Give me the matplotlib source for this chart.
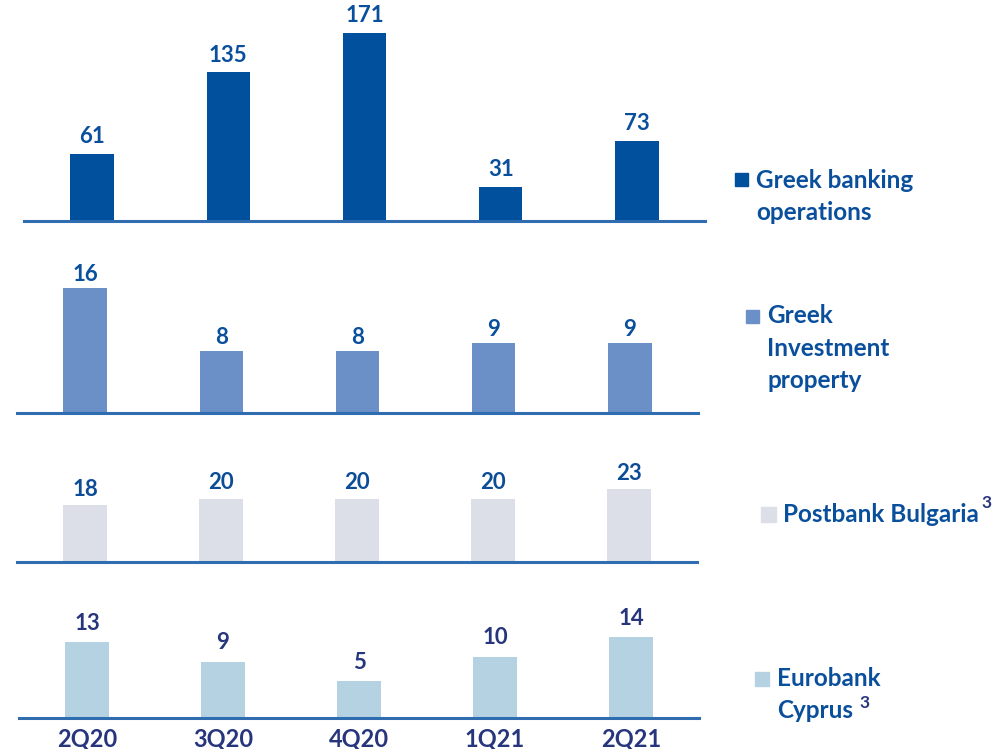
import numpy as np
import matplotlib
matplotlib.use('Agg')
import matplotlib.pyplot as plt

plt.rcParams['font.family'] = ['Lato', 'DejaVu Sans']
plt.rcParams['font.weight'] = 'bold'

# Data
quarters = ['2Q20', '3Q20', '4Q20', '1Q21', '2Q21']
greek_banking = [61, 135, 171, 31, 73]
greek_property = [16, 8, 8, 9, 9]
postbank_bulgaria = [18, 20, 20, 20, 23]
eurobank_cyprus = [13, 9, 5, 10, 14]

series = [greek_banking, greek_property, postbank_bulgaria, eurobank_cyprus]
bar_colors = ['#00509e', '#6b8fc7', '#dcdfe8', '#b5d2e2']
label_colors = ['#0a4f9c', '#0a4f9c', '#0c4c96', '#27367c']
label_offsets = [5, 2, 4, 6]
line_color = '#2f6cb0'
W, H = 996, 749

fig = plt.figure(figsize=(W / 100, H / 100), dpi=100)

# panel boxes in pixels: left, right, bottom(baseline y), top y, ymin, ymax
panels = [
    (24, 705, 221, 10, 0, 191.8),
    (17, 698, 413, 250, 0, 20.9),
    (17, 697, 562, 440, 0, 38.7),
    (19, 699, 718, 585, -2.5, 24.6),
]

x = np.arange(len(quarters))
for vals, col, lcol, off, (l, r, b, t, ymin, ymax) in zip(series, bar_colors, label_colors,
                                                           label_offsets, panels):
    ax = fig.add_axes([l / W, 1 - b / H, (r - l) / W, (b - t) / H])
    vals = np.array(vals)
    ax.bar(x, vals - ymin, bottom=ymin, width=0.32, color=col)
    ax.set_xlim(-0.5, 4.5)
    ax.set_ylim(ymin, ymax)
    for xi, v in zip(x, vals):
        ax.annotate(str(v), (xi, v), xytext=(0, off), textcoords='offset points',
                    ha='center', va='bottom', fontsize=16, fontweight='bold', color=lcol)
    ax.axhline(ymin, color=line_color, lw=2.2, clip_on=False)
    for s in ax.spines.values():
        s.set_visible(False)
    ax.set_xticks([])
    ax.set_yticks([])
    ax.patch.set_alpha(0)
    last_ax = ax

# category labels under the last panel
last_ax.set_xticks(x)
last_ax.set_xticklabels(quarters, fontsize=17, fontweight='bold', color='#27367c')
last_ax.tick_params(axis='x', length=0, pad=7)

# legend texts
txt_color = '#0a4f9c'
sup_color = '#2b3580'


def legend_entry(sq_x, sq_y, sq_size, sq_color, tx, lines, y0, step):
    fig.patches.append(plt.Rectangle((sq_x / W, 1 - (sq_y + sq_size) / H), sq_size / W, sq_size / H,
                                     transform=fig.transFigure, color=sq_color))
    for i, s in enumerate(lines):
        fig.text(tx / W, 1 - (y0 + i * step) / H, s, fontsize=17.5, fontweight='bold',
                 color=txt_color, va='center', ha='left')


legend_entry(735, 173, 13, bar_colors[0], 756, ['Greek banking', 'operations'], 180, 32)
legend_entry(746, 310, 13, bar_colors[1], 767, ['Greek', 'Investment', 'property'], 316, 32)
legend_entry(761, 507, 15, bar_colors[2], 783, ['Postbank Bulgaria'], 515, 32)
legend_entry(755, 672, 14, bar_colors[3], 777, ['Eurobank', 'Cyprus'], 679, 32)
fig.text(981 / W, 1 - 503 / H, '3', fontsize=12.5, fontweight='bold', color=sup_color, va='center')
fig.text(859 / W, 1 - 703 / H, '3', fontsize=12.5, fontweight='bold', color=sup_color, va='center')

fig.savefig('out.png', dpi=100)
